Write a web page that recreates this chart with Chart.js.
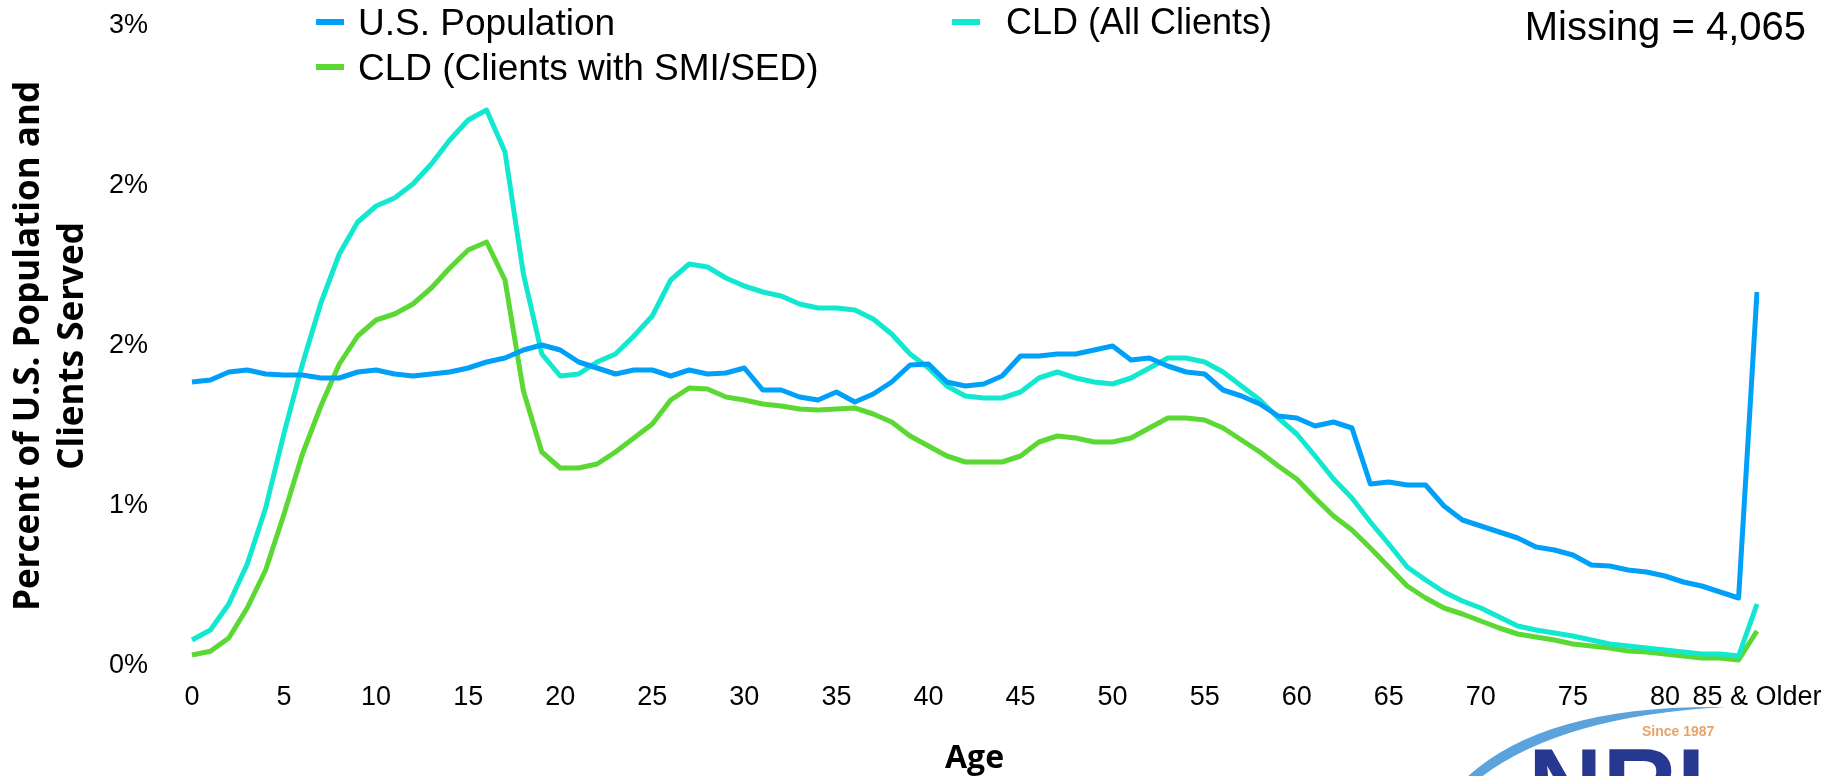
<!DOCTYPE html>
<html>
<head>
<meta charset="utf-8">
<script src="https://cdn.jsdelivr.net/npm/chart.js@4.4.1/dist/chart.umd.min.js"></script>
<style>
html,body{margin:0;padding:0;background:#fff;}
#wrap{position:relative;width:1848px;height:776px;overflow:hidden;background:#fff;}
#c{position:absolute;left:0;top:0;}
.leg{position:absolute;font-family:"Liberation Sans",Arial,sans-serif;font-size:37px;color:#000;white-space:nowrap;line-height:1;}
.mk{position:absolute;height:6px;width:28px;}
#logo{position:absolute;left:1440px;top:690px;}
</style>
</head>
<body>
<div id="wrap">
<canvas id="c" width="1848" height="776"></canvas>
<div class="mk" style="left:316px;top:19px;background:#00A0F8"></div>
<div class="leg" style="left:358px;top:4px">U.S. Population</div>
<div class="mk" style="left:952px;top:19px;background:#12E8CF"></div>
<div class="leg" style="left:1006px;top:4px;font-size:36px">CLD (All Clients)</div>
<div class="mk" style="left:316px;top:64px;background:#5CD834"></div>
<div class="leg" style="left:358px;top:49px">CLD (Clients with SMI/SED)</div>
<div class="leg" style="right:42px;top:6px;font-size:40px">Missing = 4,065</div>
<svg id="logo" width="330" height="86" viewBox="0 0 330 86">
  <path d="M26 88 Q 105 14 286 17 Q 120 26 40 88 Z" fill="#5ba3dc"/>
  <text x="202" y="46" font-family="Liberation Sans, Arial, sans-serif" font-size="14" font-weight="bold" fill="#e8a36a">Since 1987</text>
  <text x="88" y="131" font-family="Liberation Sans, Arial, sans-serif" font-weight="bold" font-size="103" fill="#26388f">NRI</text>
</svg>
</div>
<script>
// ---- data ----
const ageLabels = ['0','1','2','3','4','5','6','7','8','9','10','11','12','13','14','15','16','17','18','19',
  '20','21','22','23','24','25','26','27','28','29','30','31','32','33','34','35','36','37','38','39',
  '40','41','42','43','44','45','46','47','48','49','50','51','52','53','54','55','56','57','58','59',
  '60','61','62','63','64','65','66','67','68','69','70','71','72','73','74','75','76','77','78','79',
  '80','81','82','83','84','85 & Older'];

const usPopulation = [1.42,1.43,1.47,1.48,1.46,1.455,1.455,1.44,1.44,1.47,
  1.48,1.46,1.45,1.46,1.47,1.49,1.52,1.54,1.58,1.605,
  1.58,1.52,1.49,1.46,1.48,1.48,1.45,1.48,1.46,1.465,
  1.49,1.38,1.38,1.345,1.33,1.37,1.32,1.36,1.42,1.505,
  1.51,1.42,1.40,1.41,1.45,1.55,1.55,1.56,1.56,1.58,
  1.60,1.53,1.54,1.50,1.47,1.46,1.38,1.35,1.31,1.25,
  1.24,1.20,1.22,1.19,0.91,0.92,0.905,0.905,0.80,0.73,
  0.70,0.67,0.64,0.595,0.58,0.555,0.505,0.50,0.48,0.47,
  0.45,0.42,0.40,0.37,0.34,1.87];

const cldAllClients = [0.13,0.18,0.31,0.51,0.79,1.165,1.51,1.815,2.06,2.22,
  2.30,2.34,2.41,2.51,2.63,2.73,2.78,2.57,1.96,1.56,
  1.45,1.46,1.52,1.56,1.65,1.75,1.93,2.01,1.995,1.94,
  1.90,1.87,1.85,1.81,1.79,1.79,1.78,1.735,1.66,1.56,
  1.49,1.40,1.35,1.34,1.34,1.37,1.44,1.47,1.44,1.42,
  1.41,1.44,1.49,1.54,1.54,1.52,1.47,1.40,1.33,1.24,
  1.16,1.05,0.935,0.84,0.72,0.61,0.495,0.43,0.37,0.325,
  0.29,0.245,0.20,0.18,0.165,0.15,0.13,0.11,0.10,0.09,
  0.08,0.07,0.06,0.06,0.05,0.31];

const cldSmiSed = [0.055,0.074,0.14,0.29,0.48,0.76,1.06,1.30,1.51,1.65,
  1.73,1.76,1.81,1.89,1.99,2.08,2.12,1.93,1.375,1.07,
  0.99,0.99,1.01,1.07,1.14,1.21,1.33,1.39,1.385,1.345,
  1.33,1.31,1.30,1.285,1.28,1.285,1.29,1.26,1.22,1.15,
  1.10,1.05,1.02,1.02,1.02,1.05,1.12,1.15,1.14,1.12,
  1.12,1.14,1.19,1.24,1.24,1.23,1.19,1.13,1.07,1.00,
  0.935,0.84,0.75,0.68,0.59,0.495,0.40,0.34,0.29,0.26,
  0.225,0.19,0.16,0.145,0.13,0.11,0.10,0.09,0.075,0.07,
  0.06,0.05,0.04,0.04,0.03,0.175];

const yTicks = [0, 0.8, 1.6, 2.4, 3.2];
const seriesNames = ['U.S. Population', 'CLD (All Clients)', 'CLD (Clients with SMI/SED)'];
const seriesColors = ['#00A0F8', '#12E8CF', '#5CD834'];

// ---- chart ----
const tickFont = {family: "'Liberation Sans', Arial, sans-serif", size: 27};
const titleFont = {family: "'Open Sans', sans-serif", weight: 'bold', size: 32};

new Chart(document.getElementById('c'), {
  type: 'line',
  data: {
    labels: ageLabels,
    datasets: [
      {label: seriesNames[0], data: usPopulation, borderColor: seriesColors[0]},
      {label: seriesNames[1], data: cldAllClients, borderColor: seriesColors[1]},
      {label: seriesNames[2], data: cldSmiSed, borderColor: seriesColors[2]}
    ].map(d => Object.assign(d, {borderWidth: 5, pointRadius: 0, tension: 0, fill: false, borderJoinStyle: 'round', backgroundColor: d.borderColor}))
  },
  options: {
    responsive: false,
    animation: false,
    devicePixelRatio: 1,
    layout: {padding: {left: 0, right: 91, top: 26, bottom: 0}},
    plugins: {legend: {display: false}, tooltip: {enabled: false}},
    scales: {
      x: {
        afterFit(s) { s.height = 110; },
        grid: {display: false, drawTicks: false},
        border: {display: false},
        ticks: {
          autoSkip: false, maxRotation: 0, minRotation: 0, padding: 15,
          font: tickFont, color: '#000',
          callback: function(v, i) { return i % 5 === 0 ? ageLabels[i] : ''; }
        },
        title: {display: true, text: 'Age', font: titleFont, color: '#000', padding: {top: 0, bottom: -2}}
      },
      y: {
        min: 0, max: 3.2,
        afterFit(s) { s.width = 192; s.paddingTop = 10; s.paddingBottom = 10; },
        afterBuildTicks(s) { s.ticks = yTicks.map(v => ({value: v})); },
        grid: {display: false, drawTicks: false},
        border: {display: false},
        ticks: {
          padding: 44, font: tickFont, color: '#000',
          callback: v => Math.round(v) + '%'
        },
        title: {
          display: true,
          text: ['Percent of U.S. Population and', 'Clients Served'],
          font: Object.assign({}, titleFont, {size: 35, lineHeight: 1.257}),
          color: '#000',
          padding: {top: 7, bottom: 0}
        }
      }
    }
  }
});
</script>
</body>
</html>
